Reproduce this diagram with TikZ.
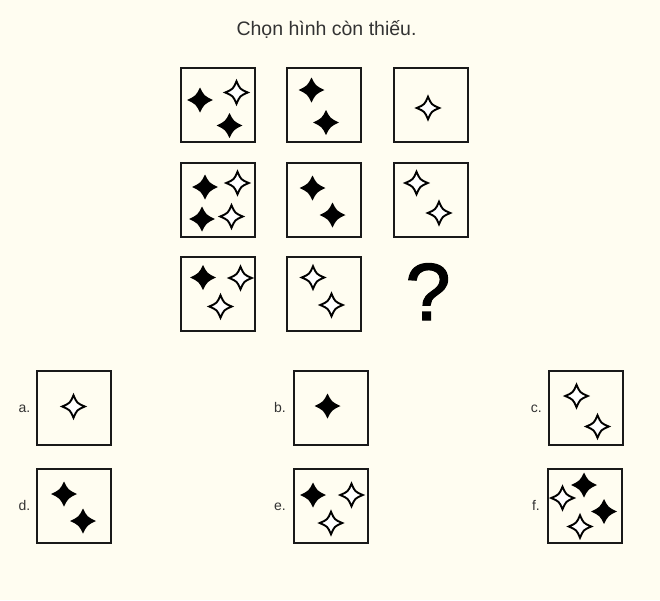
\documentclass[tikz,border=0pt]{standalone}
\usepackage{fontspec}
\setmainfont{Liberation Sans}
\newfontfamily\qfont[FakeBold=1.6]{Liberation Sans}
\definecolor{bgc}{HTML}{FFFDF1}
\definecolor{txt}{HTML}{333333}
\begin{document}
\begin{tikzpicture}[x=1pt,y=-1pt,
  box/.style={draw=black!90,line width=2pt,minimum size=74pt,inner sep=0pt,fill=bgc},
  lab/.style={anchor=base east,inner sep=0pt,font=\fontsize{14}{16}\selectfont,text=txt},
  fstar/.pic={\fill[black] (13,0) .. controls (4.2,4.2) .. (0,12.5) .. controls (-4.2,4.2) .. (-13,0) .. controls (-4.2,-4.2) .. (0,-12.5) .. controls (4.2,-4.2) .. cycle;},
  ostar/.pic={\draw[black,line width=1.9pt,fill=white,line join=miter] (11.3,0) .. controls (3.4,3.4) .. (0,11.3) .. controls (-3.4,3.4) .. (-11.3,0) .. controls (-3.4,-3.4) .. (0,-11.3) .. controls (3.4,-3.4) .. cycle;}
]
\fill[bgc] (0,0) rectangle (660,600);
\useasboundingbox (0,0) rectangle (660,600);
\node[anchor=base,inner sep=0pt,font=\fontsize{19.5}{22}\selectfont,text=txt] (title) at (326.5,35) {Chọn hình còn thiếu.};
% grid
\node[box] (g11) at (218,105) {};
\node[box] (g12) at (324,105) {};
\node[box] (g13) at (430.5,105) {};
\node[box] (g21) at (218,199.5) {};
\node[box] (g22) at (324,199.5) {};
\node[box] (g23) at (430.5,199.5) {};
\node[box] (g31) at (218,294) {};
\node[box] (g32) at (324,294) {};
\node[anchor=base,inner sep=0pt,font=\qfont\fontsize{81}{81}\selectfont] (q) at (428,320) {?};
% answers
\node[box] (ba) at (74,408) {};
\node[box] (bb) at (331,408) {};
\node[box] (bc) at (586,408) {};
\node[box] (bd) at (74,506) {};
\node[box] (be) at (331,506) {};
\node[box] (bf) at (585,506) {};
\node[lab] (la) at (30.5,412.5) {a.};
\node[lab] (lb) at (286,412.5) {b.};
\node[lab] (lc) at (542,412.5) {c.};
\node[lab] (ld) at (30.5,510.5) {d.};
\node[lab] (le) at (286,510.5) {e.};
\node[lab] (lf) at (540,510.5) {f.};
% row 1
\pic at (200,100) {fstar}; \pic at (236.5,92.5) {ostar}; \pic at (229.5,125.5) {fstar};
\pic at (311.5,90) {fstar}; \pic at (326,122.5) {fstar};
\pic at (428,108) {ostar};
% row 2
\pic at (205,187) {fstar}; \pic at (237.5,183) {ostar}; \pic at (202,219) {fstar}; \pic at (231.5,216.5) {ostar};
\pic at (312.5,188) {fstar}; \pic at (332.5,215) {fstar};
\pic at (416.5,183) {ostar}; \pic at (439,213) {ostar};
% row 3
\pic at (203,277.5) {fstar}; \pic at (240.5,278) {ostar}; \pic at (220.5,306.5) {ostar};
\pic at (313,277.5) {ostar}; \pic at (331.5,305) {ostar};
% answers
\pic at (73.5,406.5) {ostar};
\pic at (327.5,406) {fstar};
\pic at (576.5,396) {ostar}; \pic at (597.5,426.5) {ostar};
\pic at (64,494) {fstar}; \pic at (83,521) {fstar};
\pic at (313,495) {fstar}; \pic at (351.5,495) {ostar}; \pic at (331,523) {ostar};
\pic at (584,485) {fstar}; \pic at (562.5,498) {ostar}; \pic at (604,511.5) {fstar}; \pic at (580,526.5) {ostar};
\end{tikzpicture}
\end{document}
